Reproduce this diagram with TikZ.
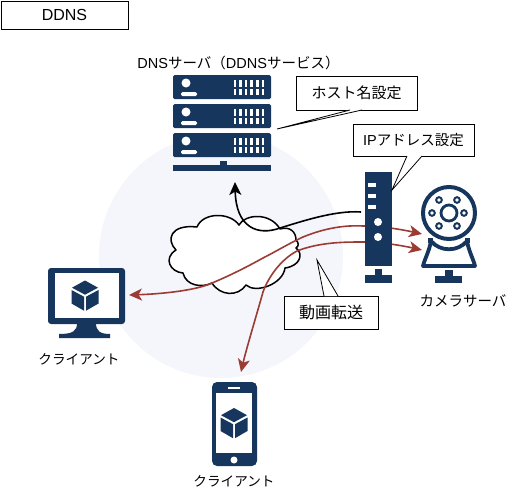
\documentclass[tikz,border=0pt]{standalone}
\usepackage{fontspec}
\setmainfont{Noto Sans CJK JP}
\newfontfamily\latinf{Liberation Sans}
\usetikzlibrary{arrows.meta}
\definecolor{navy}{HTML}{17365D}
\definecolor{rust}{HTML}{9C3B33}
\definecolor{halo}{HTML}{F4F6FB}
\tikzset{
  box/.style={draw=black,fill=white,line width=1pt,inner sep=0pt},
  lbl/.style={inner sep=0pt,font=\fontsize{14.5}{16}\selectfont},
  lblwide/.style={inner sep=0pt,font=\fontsize{15}{17}\selectfont},
  lblnarrow/.style={inner sep=0pt,font=\fontsize{13.6}{16}\selectfont},
  conn/.style={line width=1.6pt,-{Stealth[length=13pt,width=12pt,inset=3.5pt]}},
  blackconn/.style={conn,draw=black},
  redtail/.style={conn,draw=rust},
  tail/.style={draw=black,fill=white,line width=0.8pt,line join=miter},
  icon/.style={fill=navy,draw=none},
  hole/.style={fill=white,draw=none},
}
\newcommand{\cubeicon}[2]{%
  \begin{scope}[shift={(#1,#2)}]
    \fill[navy] (0,-15) -- (13,-7.8) -- (0,-0.8) -- (-13,-7.8) -- cycle;
    \fill[navy] (-13.5,-5.5) -- (-1,1.2) -- (-1,15.2) -- (-13.5,8) -- cycle;
    \fill[navy] (13.5,-5.5) -- (1,1.2) -- (1,15.2) -- (13.5,8) -- cycle;
  \end{scope}}
\newcommand{\serverunit}[1]{%
  \begin{scope}[shift={(0,#1)}]
    \fill[icon,rounded corners=1.5pt] (173,75) rectangle (271,99);
    \fill[hole] (186,83) circle (4.5);
    \fill[hole,rounded corners=1.5pt] (181,92) rectangle (197,96);
    \foreach \i in {0,...,5}{
      \fill[hole] (233.5+\i*5.6,80) rectangle ++(2.6,7);
      \fill[hole] (233.5+\i*5.6,88.5) rectangle ++(2.6,6.5);
    }
  \end{scope}}
\begin{document}
\begin{tikzpicture}[x=1pt,y=-1pt]
\useasboundingbox (0,0) rectangle (507,493);
% halo
\fill[halo] (221,256) circle (122);
% connector end points
\coordinate (routerA) at (361,212);
\coordinate (dnsIn) at (235,182);
\coordinate (routerB) at (363,226);
\coordinate (routerC) at (363,242);
\coordinate (camA) at (422,234);
\coordinate (camB) at (422,250);
\coordinate (pcIn) at (129,295);
\coordinate (phoneIn) at (241,372);
% cloud
\draw[fill=white,draw=black,line width=1.5pt,line join=round] (197,227)
  .. controls (203,212) and (230,212) .. (239,225)
  .. controls (245,214) and (270,212) .. (280,229)
  .. controls (290,226) and (296,232) .. (296,240)
  .. controls (299,243) and (299,246) .. (296,248)
  .. controls (304,254) and (300,266) .. (285,268)
  .. controls (283,284) and (256,294) .. (246,285)
  .. controls (238,297) and (220,296) .. (212,283)
  .. controls (202,288) and (186,286) .. (183,273)
  .. controls (170,272) and (163,258) .. (176,250)
  .. controls (166,240) and (170,224) .. (197,227) -- cycle;
% connectors
\draw[blackconn] (routerA) .. controls (335,210) and (300,222) .. (280,228)
  .. controls (258,236) and (236,228) .. (dnsIn);
\draw[redtail] (routerB) .. controls (345,225) and (325,228) .. (303,237)
  .. controls (288,244) and (275,252) .. (263,258)
  .. controls (245,268) and (225,278) .. (207,285)
  .. controls (190,291) and (160,294) .. (pcIn);
\draw[redtail] (routerB) .. controls (375,226) and (395,228) .. (camA);
\draw[redtail] (routerC) .. controls (345,242) and (320,242) .. (297,251)
  .. controls (280,260) and (268,278) .. (263,292)
  .. controls (258,310) and (246,350) .. (phoneIn);
\draw[redtail] (routerC) .. controls (375,242) and (395,244) .. (camB);
% DNS server
\serverunit{0}\serverunit{29}\serverunit{58}
\fill[icon] (173,165) rectangle (271,171);
\fill[icon] (220,161) rectangle (227,165);
% router
\fill[icon] (365,172) rectangle (392,266);
\fill[hole] (368,183) rectangle (376,187);
\fill[hole] (368,194) rectangle (376,198);
\fill[hole] (368,205) rectangle (376,209);
\fill[hole] (378,222) circle (4);
\fill[hole] (378,237) circle (4);
\fill[icon] (375,269) rectangle (382,275);
\fill[icon] (365,275) rectangle (392,283);
% camera
\draw[navy,line width=4pt,fill=white] (449,213) circle (26);
\draw[navy,line width=2.8pt] (449,213) circle (8);
\foreach \p in {(439,200),(457,200),(432,213),(464,213),(439,226),(457,226)}
  \draw[navy,line width=2pt] \p circle (2.8);
\fill[navy] (428,238) rectangle (433,243);
\fill[navy] (465,238) rectangle (470,243);
\draw[navy,line width=3.8pt,fill=white,line join=round] (431,241)
  .. controls (440,252) and (458,252) .. (467,241)
  .. controls (469,252) and (473,258) .. (475,266)
  -- (423,266) .. controls (425,258) and (429,252) .. cycle;
\fill[icon] (445,270) rectangle (453,276);
\fill[icon] (435,276) rectangle (462,283);
% monitor
\fill[icon,rounded corners=3pt] (48,268) rectangle (125,324);
\fill[hole] (55,273) rectangle (119,318);
\fill[icon] (77,323) -- (96,323) .. controls (96,331) and (100,334) .. (110,334)
  -- (110,338) -- (59,338) -- (59,334) .. controls (73,334) and (77,331) .. (77,323) -- cycle;
\cubeicon{85}{295.5}
% phone
\fill[icon,rounded corners=5pt] (212,382) rectangle (257,466);
\fill[hole] (216,393) rectangle (252,453);
\fill[hole] (228,387) rectangle (240,389);
\fill[hole] (234,460) circle (3.5);
\cubeicon{234}{423}
% callouts
\node[box,minimum width=127pt,minimum height=28pt,font=\latinf\fontsize{16}{18}\selectfont] (title) at (64.5,15) {DDNS};
\node[box,lblwide,minimum width=121pt,minimum height=34pt] (hostBox) at (356.5,93) {ホスト名設定};
\coordinate (hostTip) at (277,129);
\path[tail] (350,110) -- (hostTip) -- (362,110);
\node[box,lbl,minimum width=121pt,minimum height=32pt] (ipBox) at (413.5,140) {{\latinf IP}アドレス設定};
\coordinate (ipTip) at (392,190);
\path[tail] (407,156) -- (ipTip) -- (422,156);
\node[box,lbl,minimum width=94pt,minimum height=33pt,font=\fontsize{16}{18}\selectfont] (videoBox) at (331,312.5) {動画転送};
\coordinate (videoTip) at (317,260);
\path[tail] (324,296) -- (videoTip) -- (338,296);
% labels
\node[lbl] (dnsLabel) at (238.5,63) {{\latinf DNS}サーバ（{\latinf DDNS}サービス）};
\node[lbl] (camLabel) at (463,301) {カメラサーバ};
\node[lblnarrow] (pcLabel) at (79,359) {クライアント};
\node[lblnarrow] (phoneLabel) at (234,481) {クライアント};
\end{tikzpicture}
\end{document}
